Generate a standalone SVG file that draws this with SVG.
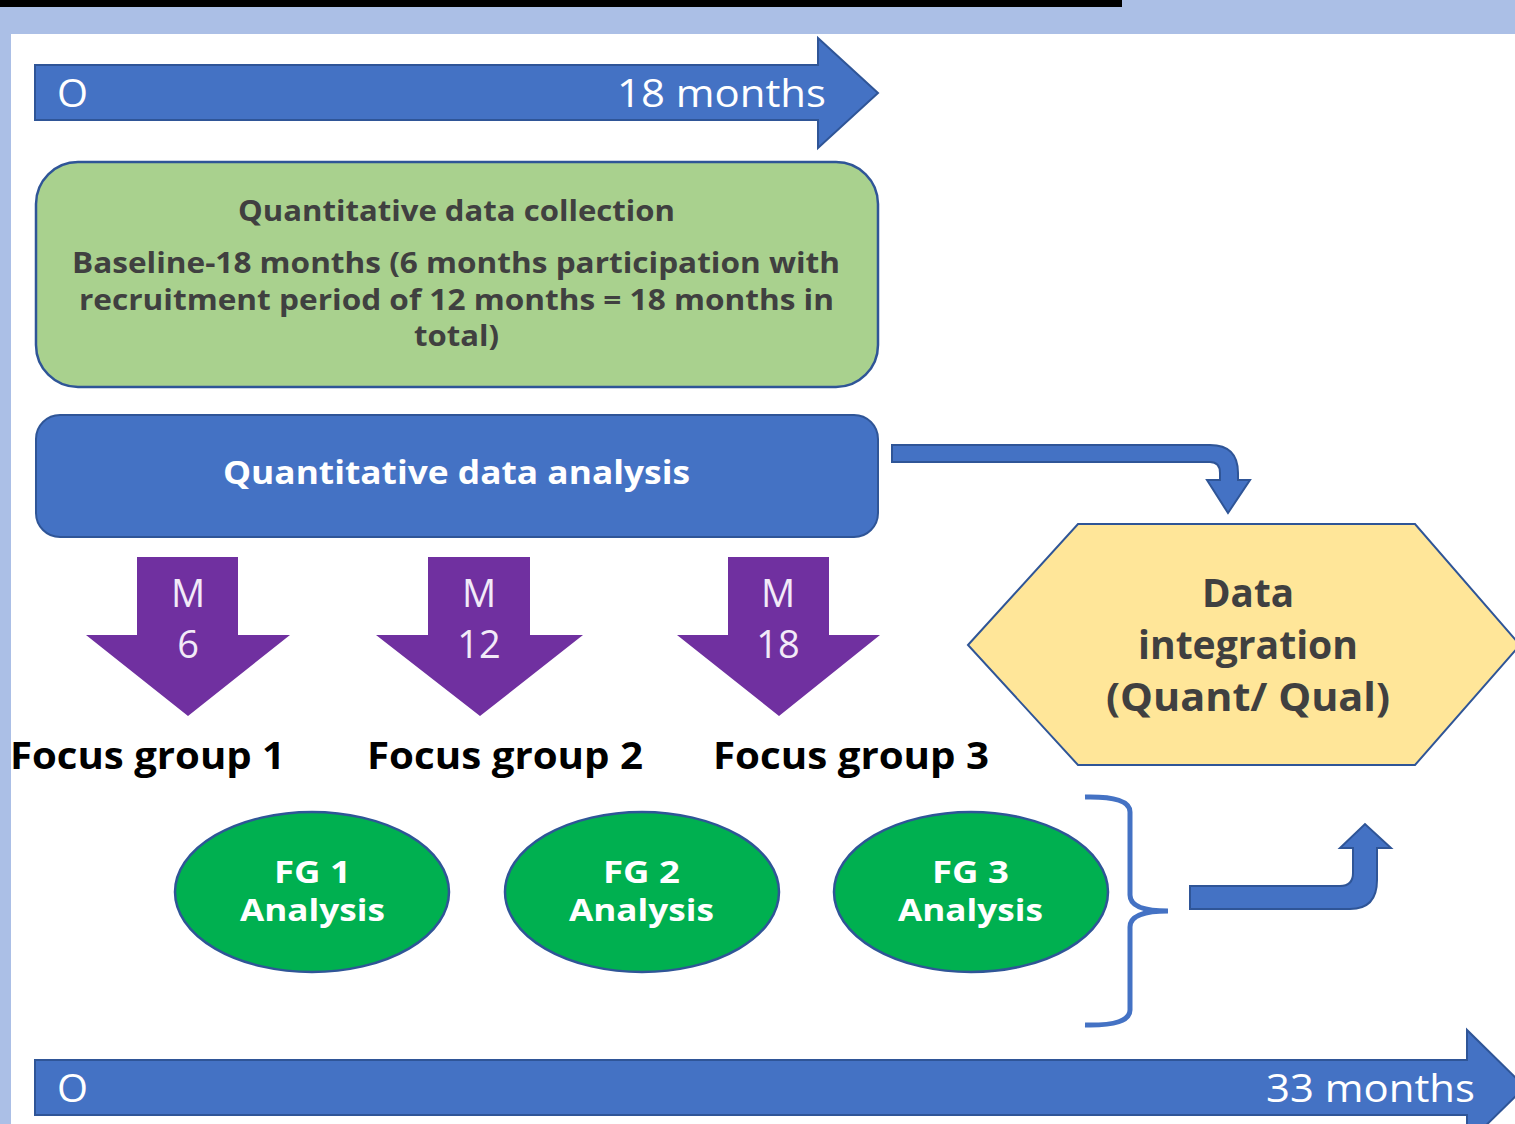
<svg xmlns="http://www.w3.org/2000/svg" width="1515" height="1124" viewBox="0 0 1515 1124">
<style>
.blue{fill:#4472C4;stroke:#2F5597;stroke-width:2}
.purple{fill:#7030A0}
.fg{fill:#00B050;stroke:#2F5597;stroke-width:2.5}
.t{font-family:"Open Sans","Liberation Sans",sans-serif}
.w{fill:#FFFFFF}
.wl{fill:#F2EAF8}
.dk{fill:#404040;font-weight:bold}
.b{font-weight:bold}
</style>
<rect x="0" y="0" width="1515" height="1124" fill="#FFFFFF"/>
<rect x="0" y="0" width="1515" height="34" fill="#ABBFE6"/>
<rect x="0" y="0" width="11" height="1124" fill="#ABBFE6"/>
<rect x="0" y="0" width="1122" height="7" fill="#000000"/>

<g id="timeline-top">
<polygon class="blue" points="35,65 818,65 818,38 878,93 818,148 818,120 35,120"/>
<text class="t w" x="57" y="107" font-size="38" textLength="31" lengthAdjust="spacingAndGlyphs">O</text>
<text class="t w" x="617" y="107" font-size="39" textLength="209" lengthAdjust="spacingAndGlyphs">18 months</text>
</g>

<g id="quant-collection">
<rect x="36" y="162" width="842" height="225" rx="42" fill="#A9D18E" stroke="#2F5597" stroke-width="2.5"/>
<text class="t dk" x="238" y="221" font-size="29" textLength="437" lengthAdjust="spacingAndGlyphs">Quantitative data collection</text>
<text class="t dk" x="72" y="273" font-size="29" textLength="768" lengthAdjust="spacingAndGlyphs">Baseline-18 months (6 months participation with</text>
<text class="t dk" x="79" y="310" font-size="29" textLength="755" lengthAdjust="spacingAndGlyphs">recruitment period of 12 months = 18 months in</text>
<text class="t dk" x="414" y="346" font-size="29" textLength="85" lengthAdjust="spacingAndGlyphs">total)</text>
</g>

<g id="quant-analysis">
<rect class="blue" x="36" y="415" width="842" height="122" rx="24"/>
<text class="t w b" x="223" y="484" font-size="33" textLength="467" lengthAdjust="spacingAndGlyphs">Quantitative data analysis</text>
</g>

<g id="m6">
<polygon class="purple" points="137,557 238,557 238,635 290,635 188,716 86,635 137,635"/>
<text class="t wl" x="188" y="607" font-size="38" text-anchor="middle">M</text>
<text class="t wl" x="188" y="658" font-size="38" text-anchor="middle">6</text>
</g>
<g id="m12">
<polygon class="purple" points="428,557 530,557 530,635 583,635 480,716 376,635 428,635"/>
<text class="t wl" x="479" y="607" font-size="38" text-anchor="middle">M</text>
<text class="t wl" x="479" y="658" font-size="38" text-anchor="middle">12</text>
</g>
<g id="m18">
<polygon class="purple" points="728,557 829,557 829,635 880,635 779,716 677,635 728,635"/>
<text class="t wl" x="778" y="607" font-size="38" text-anchor="middle">M</text>
<text class="t wl" x="778" y="658" font-size="38" text-anchor="middle">18</text>
</g>

<g id="focus-labels">
<text class="t b" x="10" y="769" font-size="38" fill="#000000" textLength="275" lengthAdjust="spacingAndGlyphs">Focus group 1</text>
<text class="t b" x="367" y="769" font-size="38" fill="#000000" textLength="276" lengthAdjust="spacingAndGlyphs">Focus group 2</text>
<text class="t b" x="713" y="769" font-size="38" fill="#000000" textLength="276" lengthAdjust="spacingAndGlyphs">Focus group 3</text>
</g>

<g id="fg1">
<ellipse class="fg" cx="312" cy="892" rx="137" ry="80"/>
<text class="t w b" x="274" y="883" font-size="31" textLength="77" lengthAdjust="spacingAndGlyphs">FG 1</text>
<text class="t w b" x="240" y="921" font-size="31" textLength="145" lengthAdjust="spacingAndGlyphs">Analysis</text>
</g>
<g id="fg2">
<ellipse class="fg" cx="642" cy="892" rx="137" ry="80"/>
<text class="t w b" x="603" y="883" font-size="31" textLength="77" lengthAdjust="spacingAndGlyphs">FG 2</text>
<text class="t w b" x="569" y="921" font-size="31" textLength="145" lengthAdjust="spacingAndGlyphs">Analysis</text>
</g>
<g id="fg3">
<ellipse class="fg" cx="971" cy="892" rx="137" ry="80"/>
<text class="t w b" x="932" y="883" font-size="31" textLength="77" lengthAdjust="spacingAndGlyphs">FG 3</text>
<text class="t w b" x="898" y="921" font-size="31" textLength="145" lengthAdjust="spacingAndGlyphs">Analysis</text>
</g>

<g id="data-integration">
<polygon points="968,645 1078,524 1415,524 1520,645 1415,765 1078,765" fill="#FFE699" stroke="#2F5597" stroke-width="2"/>
<text class="t dk" x="1202" y="607" font-size="39" textLength="92" lengthAdjust="spacingAndGlyphs">Data</text>
<text class="t dk" x="1138" y="659" font-size="39" textLength="220" lengthAdjust="spacingAndGlyphs">integration</text>
<text class="t dk" x="1106" y="711" font-size="39" textLength="284" lengthAdjust="spacingAndGlyphs">(Quant/ Qual)</text>
</g>

<g id="connectors">
<path class="blue" d="M892,445 L1210,445 Q1238,445 1238,473 L1238,480 L1250,480 L1228,513 L1207,480 L1220,480 L1220,473 Q1220,462 1210,462 L892,462 Z"/>
<path d="M1085,797 Q1130,796 1130,812 L1130,895 Q1130,911 1168,911 Q1130,911 1130,927 L1130,1010 Q1130,1026 1085,1025" fill="none" stroke="#4472C4" stroke-width="5"/>
<path class="blue" d="M1190,886 L1340,886 Q1353,886 1353,873 L1353,848 L1340,848 L1365,824 L1391,848 L1377,848 L1377,880 Q1377,909 1350,909 L1190,909 Z"/>
</g>

<g id="timeline-bottom">
<polygon class="blue" points="35,1060 1467,1060 1467,1030 1525,1087 1467,1144 1467,1115 35,1115"/>
<text class="t w" x="57" y="1102" font-size="38" textLength="31" lengthAdjust="spacingAndGlyphs">O</text>
<text class="t w" x="1266" y="1102" font-size="39" textLength="209" lengthAdjust="spacingAndGlyphs">33 months</text>
</g>
</svg>
